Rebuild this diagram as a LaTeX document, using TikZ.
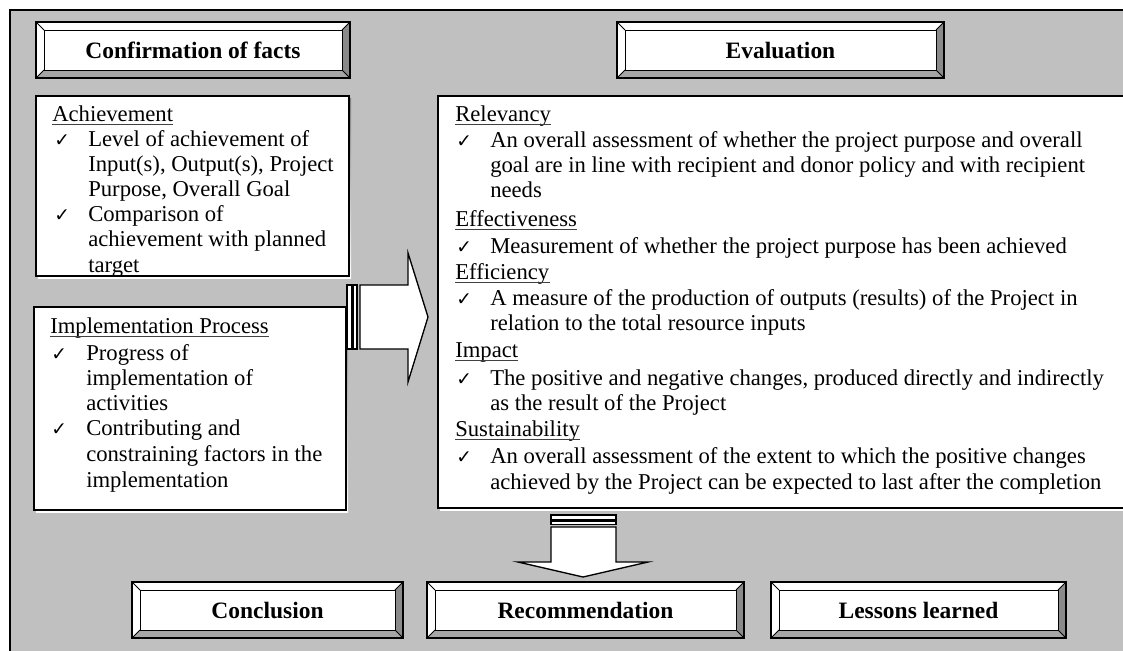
\documentclass[tikz,border=0pt]{standalone}
\usepackage{fontspec}
\setmainfont{Liberation Serif}
\newfontfamily\chkfont{DejaVu Sans}
\definecolor{panel}{HTML}{C0C0C0}
\definecolor{bevdark}{HTML}{8A8A8A}
\definecolor{bevmid}{HTML}{A6A6A6}
\definecolor{shade}{HTML}{707070}

\tikzset{
  txt/.style={anchor=base west, inner sep=0pt, font=\fontsize{17}{20}\selectfont},
  chk/.style={anchor=base west, inner sep=0pt, font=\chkfont\fontsize{14}{14}\selectfont},
  uline/.style={draw=black!75, line width=0.7pt},
  title/.style={inner sep=0pt, font=\fontsize{17.6}{20}\selectfont\bfseries},
  card/.style={draw=black, line width=1.1pt, fill=white},
  arrowbody/.style={draw=black, line width=1pt, fill=white, line join=miter},
}

% bevelled title plate: name, x1, y1, x2, y2, label
\newcommand\plate[6]{%
  \fill[white] (#2,#3) rectangle (#4,#5);
  \fill[bevdark] (#4,#3) -- (#4,#5) -- (#4-8,#5-8) -- (#4-8,#3+8) -- cycle;
  \fill[bevmid] (#2,#5) -- (#4,#5) -- (#4-8,#5-8) -- (#2+8,#5-8) -- cycle;
  \draw[line width=0.6pt] (#2+8,#3+8) rectangle (#4-8,#5-8);
  \draw[line width=0.6pt] (#2,#3) -- (#2+8,#3+8) (#4,#3) -- (#4-8,#3+8)
        (#2,#5) -- (#2+8,#5-8) (#4,#5) -- (#4-8,#5-8);
  \draw[line width=1.4pt] (#2,#3) rectangle (#4,#5);
  \node[title] (#1) at ({(#2+#4)/2},{(#3+#5)/2}) {#6};
}
% underlined section heading: name, x, baseline, text
\newcommand\heading[4]{%
  \node[txt] (#1) at (#2,#3) {#4};
  \draw[uline] ([yshift=-2.7pt]#1.base west) -- ([yshift=-2.7pt]#1.base east);
}
% check mark: name, x, baseline
\newcommand\tick[3]{\node[chk] (#1) at (#2,#3) {✓};}

\begin{document}
\begin{tikzpicture}[x=0.75pt,y=-0.75pt]
\useasboundingbox (0,0) rectangle (1123,650);
\clip (0,0) rectangle (1123,650);

% grey panel
\fill[panel] (10,10) rectangle (1140,670);
\draw[line width=1.5pt] (1140,10) -- (10,10) -- (10,670);

% title plates
\plate{conf}{36}{22}{350}{78}{Confirmation of facts}
\plate{eval}{617}{22}{944}{78}{Evaluation}
\plate{concl}{132}{582}{403}{638}{Conclusion}
\plate{recom}{427}{582}{744}{638}{Recommendation}
\plate{lesson}{771}{582}{1066}{638}{Lessons learned}

% Achievement card
\fill[shade] (38,98) rectangle (351,278);
\draw[card] (36,96) rectangle (349,276);
\begin{scope}
  \clip (37,97) rectangle (348,275.5);
  \heading{achH}{52}{121}{Achievement}
  \tick{achC1}{54}{146}
  \tick{achC2}{54}{221}
  \foreach \y/\t in {146/{Level of achievement of},171/{Input(s), Output(s), Project},
                     196/{Purpose, Overall Goal},221/{Comparison of},
                     246/{achievement with planned},272/{target}}
    {\node[txt] (ach\y) at (88,\y) {\t};}
\end{scope}

% Implementation card
\fill[shade] (36,309) rectangle (348,512);
\draw[card] (34,307) rectangle (346,510);
\heading{impH}{50}{333}{Implementation Process}
\tick{impC1}{51}{360}
\tick{impC2}{51}{435}
\foreach \y/\t in {360/{Progress of},385/{implementation of},410/{activities},
                   435/{Contributing and},461/{constraining factors in the},487/{implementation}}
  {\node[txt] (imp\y) at (86,\y) {\t};}

% Evaluation card
\fill[shade] (440,98) rectangle (1140,510);
\draw[card] (438,96) rectangle (1140,508);
\heading{relH}{455}{121}{Relevancy}
\heading{effH}{455}{226}{Effectiveness}
\heading{efcH}{455}{279}{Efficiency}
\heading{impcH}{455}{357}{Impact}
\heading{susH}{455}{436}{Sustainability}
\foreach \y in {147,253,305,385,463}
  {\tick{evC\y}{456}{\y}}
\foreach \y/\t in {
  147/{An overall assessment of whether the project purpose and overall},
  172/{goal are in line with recipient and donor policy and with recipient},
  197/{needs},
  253/{Measurement of whether the project purpose has been achieved},
  305/{A measure of the production of outputs (results) of the Project in},
  330/{relation to the total resource inputs},
  385/{The positive and negative changes, produced directly and indirectly},
  410/{as the result of the Project},
  463/{An overall assessment of the extent to which the positive changes},
  489/{achieved by the Project can be expected to last after the completion}}
  {\node[txt] (ev\y) at (490,\y) {\t};}

% striped arrow from the facts to the evaluation
\draw[arrowbody] (347,285) rectangle (352,349);
\draw[arrowbody] (353.5,285) rectangle (357,349);
\draw[arrowbody] (360,285) -- (408,285) -- (408,253) -- (428,317)
                 -- (408,382) -- (408,349) -- (360,349) -- cycle;

% striped arrow from the evaluation down to the outcomes
\draw[arrowbody] (551,515) rectangle (616,519.5);
\draw[arrowbody] (551,521) rectangle (616,524.5);
\draw[arrowbody] (551,527) -- (551,562) -- (518,562) -- (583,577)
                 -- (648,562) -- (616,562) -- (616,527) -- cycle;
\end{tikzpicture}
\end{document}
